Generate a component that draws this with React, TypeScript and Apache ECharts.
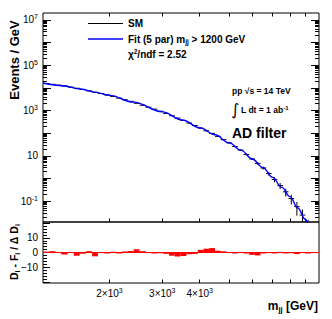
import React, { useEffect, useRef } from "react";
import * as echarts from "echarts";

// ---------------- data ----------------
const massEdges = [1200, 1260, 1320, 1380, 1450, 1520, 1590, 1670, 1750, 1830, 1920, 2010, 2100, 2200, 2300, 2410, 2520, 2640, 2760, 2890, 3020, 3160, 3300, 3450, 3610, 3770, 3940, 4120, 4300, 4500, 4700, 4910, 5130, 5360, 5600, 5850, 6110, 6380, 6660, 6950, 7260, 7580, 7910, 8260, 8620, 9000, 9400];
const smValues = [15500, 14300, 13100, 12000, 10700, 9550, 8440, 7330, 6410, 5600, 4870, 4180, 3530, 2980, 2520, 2080, 1700, 1390, 1140, 931, 743, 586, 462, 361, 279, 216, 166, 127, 97.5, 71.9, 51.5, 36.8, 25.7, 17.9, 11.5, 7.33, 4.63, 2.9, 1.64, 0.906, 0.486, 0.258, 0.13, 0.0574, 0.0243, 0.008];
const smRelErr = [0.004, 0.004, 0.004, 0.005, 0.005, 0.005, 0.006, 0.006, 0.006, 0.007, 0.007, 0.008, 0.008, 0.009, 0.01, 0.01, 0.011, 0.012, 0.013, 0.014, 0.015, 0.017, 0.019, 0.021, 0.023, 0.026, 0.029, 0.032, 0.036, 0.04, 0.046, 0.053, 0.06, 0.07, 0.085, 0.1, 0.12, 0.15, 0.19, 0.25, 0.3, 0.38, 0.45, 0.6, 0.75, 0.9];
const residuals = [0.6, 0.9, 0.3, -1.4, 0.4, -2.2, -0.8, 0.9, -2.6, 0.3, -0.3, 0.5, -0.4, 0.7, 1.0, 2.2, 0.9, 0.3, -0.6, 0.2, -0.9, -2.2, -2.7, -2.4, -1.2, -1.0, 1.8, 2.6, 3.0, 1.2, 0.8, 0.3, -0.3, 0.4, -0.2, -1.6, -2.0, -0.4, 0.3, -0.3, 0.4, -0.2, 0.2, -1.1, 0.3, 0];
const fitMass = [1200, 1400, 1600, 1800, 2000, 2400, 3000, 3500, 4000, 4500, 5000, 5500, 6000, 6500, 7000, 7500, 8000, 8500, 9000, 9200];
const fitValues = [16200, 12300, 8910, 6310, 4620, 2340, 871, 380, 174, 85.1, 38.0, 17.4, 7.08, 3.02, 1.12, 0.417, 0.158, 0.0501, 0.0158, 0.0089];

const xRange = [1200, 10000];
const xTickMasses = [2000, 3000, 4000, 5000, 6000, 7000, 8000, 9000];
const xLabelMasses = [2000, 3000, 4000];
const yExpRange = [-1.92, 7.3];
const yLabelExponents = [-1, 1, 3, 5, 7];
const residRange = [-20.8, 20.8];
const residMajorTicks = [-20, -10, 0, 10, 20];
const residLabels = [-10, 0, 10];

// ---------------- chart ----------------
const FONT = "Liberation Sans";
const lg = Math.log10;

function buildOption() {
  const X0 = lg(xRange[0]);
  const X1 = lg(xRange[1]);
  const Y0 = yExpRange[0];
  const Y1 = yExpRange[1];

  const supRich: any = {
    a: { fontSize: 10, fontFamily: FONT, color: "#000", lineHeight: 13 },
    s: { fontSize: 7, fontFamily: FONT, color: "#000", lineHeight: 8, verticalAlign: "top" },
  };

  const majorY: number[] = [];
  for (let n = Math.ceil(Y0); n <= Math.floor(Y1); n++) majorY.push(n);
  const minorY: number[] = [];
  for (let n = Math.floor(Y0); n <= Math.ceil(Y1); n++)
    for (let k = 2; k <= 9; k++) {
      const v = n + lg(k);
      if (v > Y0 && v < Y1) minorY.push(v);
    }
  const residMinor: number[] = [];
  for (let v = -20; v <= 20; v += 2) if (v % 10 !== 0) residMinor.push(v);

  const xTicks = xTickMasses.map(lg);

  const yAx = (grid: number, pos: string, min: number, max: number, ticks: number[], len: number, labels?: any) => ({
    type: "value",
    gridIndex: grid,
    position: pos,
    min,
    max,
    axisLine: { show: false, onZero: false },
    splitLine: { show: false },
    axisTick: { show: true, inside: true, length: len, customValues: ticks, lineStyle: { color: "#000", width: 1 } },
    axisLabel: labels
      ? { show: true, customValues: labels.values, formatter: labels.fmt, margin: 5, rich: supRich, fontFamily: FONT, fontSize: 10, color: "#000" }
      : { show: false },
  });
  const xAx = (grid: number, pos: string, labels?: any) => ({
    type: "value",
    gridIndex: grid,
    position: pos,
    min: X0,
    max: X1,
    axisLine: { show: false, onZero: false },
    splitLine: { show: false },
    axisTick: { show: true, inside: true, length: 3.5, customValues: xTicks, lineStyle: { color: "#000", width: 1 } },
    axisLabel: labels
      ? { show: true, customValues: labels.values, formatter: labels.fmt, margin: 4, rich: supRich, fontFamily: FONT, fontSize: 10, color: "#000" }
      : { show: false },
  });

  const expFmt = (v: number) => {
    const n = Math.round(v);
    if (n === 1) return "{a|10}";
    return `{a|10}{s|${n}}`;
  };
  const massFmt = (v: number) => {
    const m = Math.round(Math.pow(10, v));
    return `{a|${Math.round(m / 1000)}×10}{s|3}`;
  };
  const residFmt = (v: number) => {
    const n = Math.round(v);
    return `{a|${n < 0 ? "−" + Math.abs(n) : n}}`;
  };

  const smData = smValues.map((v, i) => {
    const e = smRelErr[i];
    const up = lg(v * (1 + e));
    const dnv = v * (1 - e);
    const dn = dnv > 0 ? Math.max(lg(dnv), Y0 - 0.1) : Y0 - 0.1;
    return [lg(massEdges[i]), lg(massEdges[i + 1]), lg(v), up, dn];
  });
  const resData = residuals.map((r, i) => [lg(massEdges[i]), lg(massEdges[i + 1]), r]);

  const t = (size: number, weight = "bold") => ({ fontSize: size, fontFamily: FONT, fontWeight: weight, fill: "#000" });

  return {
    animation: false,
    backgroundColor: "#fff",
    grid: [
      { left: 43, top: 13, width: 276, height: 209, show: true, borderColor: "#000", borderWidth: 1, backgroundColor: "transparent" },
      { left: 43, top: 222, width: 276, height: 61, show: true, borderColor: "#000", borderWidth: 1, backgroundColor: "transparent" },
    ],
    xAxis: [
      xAx(0, "bottom"),
      xAx(0, "top"),
      xAx(1, "bottom", { values: xLabelMasses.map(lg), fmt: massFmt }),
    ],
    yAxis: [
      yAx(0, "left", Y0, Y1, majorY, 8, { values: yLabelExponents, fmt: expFmt }),
      yAx(0, "left", Y0, Y1, minorY, 4),
      yAx(0, "right", Y0, Y1, majorY, 8),
      yAx(0, "right", Y0, Y1, minorY, 4),
      yAx(1, "left", residRange[0], residRange[1], residMajorTicks, 7, { values: residLabels, fmt: residFmt }),
      yAx(1, "left", residRange[0], residRange[1], residMinor, 4),
    ],
    series: [
      {
        type: "custom",
        xAxisIndex: 0,
        yAxisIndex: 0,
        clip: true,
        z: 2,
        encode: { x: [0, 1], y: 2 },
        data: smData,
        renderItem: (_p: any, api: any) => {
          const lo = api.value(0), hi = api.value(1), v = api.value(2), up = api.value(3), dn = api.value(4);
          const mid = (lo + hi) / 2;
          const a = api.coord([lo, v]);
          const b = api.coord([hi, v]);
          const u = api.coord([mid, up]);
          const d = api.coord([mid, dn]);
          return {
            type: "group",
            children: [
              { type: "line", shape: { x1: a[0], y1: a[1], x2: b[0], y2: b[1] }, style: { stroke: "#000", lineWidth: 1 } },
              { type: "line", shape: { x1: u[0], y1: u[1], x2: d[0], y2: d[1] }, style: { stroke: "#000", lineWidth: 1 } },
            ],
          };
        },
      },
      {
        type: "line",
        xAxisIndex: 0,
        yAxisIndex: 0,
        z: 3,
        data: fitMass.map((m, i) => [lg(m), lg(fitValues[i])]),
        smooth: 0.4,
        smoothMonotone: "x",
        symbol: "none",
        clip: true,
        lineStyle: { color: "#0000ff", width: 1.4 },
      },
      {
        type: "line",
        xAxisIndex: 2,
        yAxisIndex: 4,
        z: 2,
        data: [[X0, 0], [X1, 0]],
        symbol: "none",
        lineStyle: { color: "#ff0000", width: 1 },
      },
      {
        type: "custom",
        xAxisIndex: 2,
        yAxisIndex: 4,
        clip: true,
        z: 3,
        encode: { x: [0, 1], y: 2 },
        data: resData,
        renderItem: (_p: any, api: any) => {
          const lo = api.value(0), hi = api.value(1), r = api.value(2);
          const a = api.coord([lo, r]);
          const b = api.coord([hi, 0]);
          return {
            type: "rect",
            shape: { x: a[0], y: Math.min(a[1], b[1]), width: b[0] - a[0], height: Math.max(Math.abs(a[1] - b[1]), 1) },
            style: { fill: "#ff0000" },
          };
        },
      },
    ],
    graphic: [
      { type: "line", shape: { x1: 88, y1: 23.5, x2: 123, y2: 23.5 }, style: { stroke: "#000", lineWidth: 1 } },
      { type: "text", x: 128, y: 23.5, style: { text: "SM", ...t(10), verticalAlign: "middle" } },
      { type: "line", shape: { x1: 88, y1: 39, x2: 123, y2: 39 }, style: { stroke: "#0000ff", lineWidth: 1.4 } },
      {
        type: "text", x: 128, y: 39,
        style: {
          text: "{t|Fit (5 par) m}{b|jj}{t| > 1200 GeV}", verticalAlign: "middle",
          rich: {
            t: { fontSize: 10, fontFamily: FONT, fontWeight: "bold", fill: "#000", lineHeight: 12 },
            b: { fontSize: 6.5, fontFamily: FONT, fontWeight: "bold", fill: "#000", lineHeight: 7, verticalAlign: "bottom" },
          },
        },
      },
      {
        type: "text", x: 128, y: 54,
        style: {
          text: "{t|χ}{s|2}{t|/ndf = 2.52}", verticalAlign: "middle",
          rich: {
            t: { fontSize: 10, fontFamily: FONT, fontWeight: "bold", fill: "#000", lineHeight: 12 },
            s: { fontSize: 6.5, fontFamily: FONT, fontWeight: "bold", fill: "#000", lineHeight: 7, verticalAlign: "top" },
          },
        },
      },
      { type: "text", x: 232, y: 90.5, style: { text: "pp √s = 14 TeV", ...t(8.5), verticalAlign: "middle" } },
      { type: "text", x: 231, y: 109, style: { text: "∫", fontSize: 16, fontFamily: "DejaVu Sans", fill: "#000", verticalAlign: "middle" } },
      {
        type: "text", x: 241, y: 110,
        style: {
          text: "{t|L dt = 1 ab}{s|-1}", verticalAlign: "middle",
          rich: {
            t: { fontSize: 8.5, fontFamily: FONT, fontWeight: "bold", fill: "#000", lineHeight: 11 },
            s: { fontSize: 6, fontFamily: FONT, fontWeight: "bold", fill: "#000", lineHeight: 6, verticalAlign: "top" },
          },
        },
      },
      { type: "text", x: 232, y: 133, style: { text: "AD filter", ...t(14), verticalAlign: "middle" } },
      { type: "text", x: 14, y: 60, rotation: Math.PI / 2, style: { text: "Events / GeV", ...t(13), align: "center", verticalAlign: "middle" } },
      {
        type: "text", x: 14, y: 252, rotation: Math.PI / 2,
        style: {
          text: "{t|D}{b|i}{t| - F}{b|i}{t| / Δ D}{b|i}", align: "center", verticalAlign: "middle",
          rich: {
            t: { fontSize: 10.5, fontFamily: FONT, fontWeight: "bold", fill: "#000", lineHeight: 13 },
            b: { fontSize: 7, fontFamily: FONT, fontWeight: "bold", fill: "#000", lineHeight: 8, verticalAlign: "bottom" },
          },
        },
      },
      {
        type: "text", x: 318, y: 306,
        style: {
          text: "{t|m}{b|jj}{t| [GeV]}", align: "right", verticalAlign: "middle",
          rich: {
            t: { fontSize: 12, fontFamily: FONT, fontWeight: "bold", fill: "#000", lineHeight: 14 },
            b: { fontSize: 7.5, fontFamily: FONT, fontWeight: "bold", fill: "#000", lineHeight: 8, verticalAlign: "bottom" },
          },
        },
      },
    ],
  };
}

export default function App() {
  const ref = useRef<HTMLDivElement>(null);
  useEffect(() => {
    if (!ref.current) return;
    const chart = echarts.init(ref.current, null, { renderer: "svg" });
    chart.setOption(buildOption() as any);
    return () => chart.dispose();
  }, []);
  return <div ref={ref} style={{ position: "fixed", left: 0, top: 0, width: 332, height: 319, background: "#fff" }} />;
}
